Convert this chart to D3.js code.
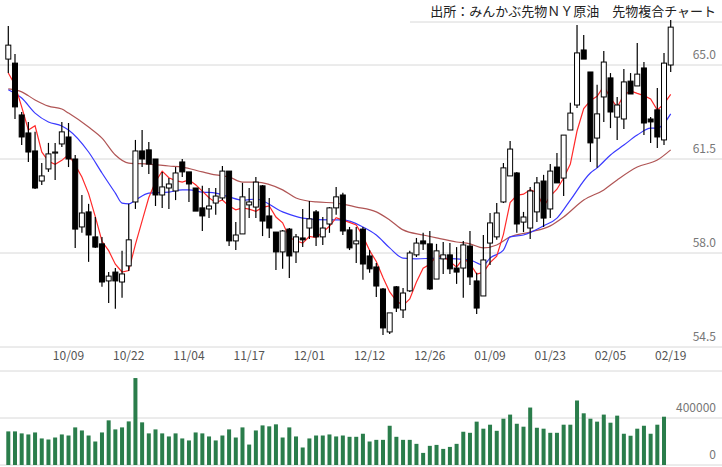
<!DOCTYPE html>
<html><head><meta charset="utf-8">
<script src="https://cdn.jsdelivr.net/npm/d3@7"></script>
<style>body{margin:0;background:#fff}svg{display:block}</style>
</head><body>
<svg id="c" width="722" height="467"></svg>
<script>
const opens=[65.22,65.07,63.14,62.47,61.80,60.68,61.13,61.72,62.06,62.32,61.50,58.97,59.53,58.60,58.34,56.96,57.29,56.92,57.52,59.90,61.80,61.84,61.50,60.16,60.42,60.31,61.39,61.02,60.42,59.68,59.64,59.86,60.05,61.05,58.45,58.71,59.79,59.71,60.50,59.38,58.78,58.04,58.89,58.04,58.56,58.93,59.53,58.60,59.08,59.68,60.16,58.86,58.34,58.89,57.89,57.48,56.66,55.06,56.74,55.88,56.59,57.93,58.45,58.34,57.03,57.78,57.93,57.44,57.44,58.26,56.96,56.40,58.37,58.60,59.90,60.87,60.98,59.15,58.93,59.53,60.68,59.64,61.20,60.79,62.58,63.51,65.56,64.74,62.28,63.81,64.52,63.06,62.99,64.40,64.22,64.89,62.99,63.33,62.21,65.00];
const highs=[66.45,65.41,63.25,62.88,62.51,61.35,62.10,62.10,62.88,62.84,61.65,60.16,59.83,59.34,58.60,57.29,57.44,58.08,59.83,62.21,62.58,62.13,61.50,61.02,60.79,61.20,61.50,61.02,60.42,60.50,60.42,60.42,61.24,61.05,59.15,60.61,60.42,60.83,60.53,60.05,58.78,58.86,58.93,58.71,59.64,59.94,59.60,59.34,59.71,60.46,60.24,58.97,58.97,58.97,58.11,57.63,56.70,55.77,56.77,56.70,58.08,58.56,58.75,58.82,58.34,58.41,58.37,58.22,58.45,58.82,57.26,58.67,59.49,59.86,61.35,62.17,61.02,59.53,60.46,60.83,60.91,61.31,61.72,62.39,63.59,66.49,66.12,64.74,64.26,65.52,64.70,63.81,64.85,64.70,65.82,65.11,63.06,64.14,65.45,66.68];
const lows=[64.70,62.99,62.02,61.39,60.38,60.53,61.02,60.72,61.95,61.20,58.19,58.75,57.67,58.19,56.74,56.14,55.92,56.33,57.33,59.64,61.20,60.94,59.75,59.68,59.64,59.97,60.83,59.90,59.56,58.82,59.30,59.42,59.97,58.26,58.11,58.71,59.30,59.30,58.63,58.56,57.37,57.41,57.07,57.63,58.22,58.52,58.26,58.30,58.75,59.42,58.67,58.11,57.63,57.00,57.26,56.36,54.95,54.98,55.80,55.58,56.55,57.85,58.11,56.62,57.03,57.22,57.22,56.85,56.33,56.81,55.73,56.40,57.55,58.49,59.86,60.87,58.75,58.78,58.52,59.15,58.97,59.30,60.61,60.12,62.58,63.40,65.22,61.39,61.17,62.88,62.65,62.21,62.62,63.92,64.22,62.39,62.10,61.91,62.02,64.74];
const closes=[65.74,63.44,62.32,61.76,60.42,60.87,61.69,61.76,62.51,61.50,58.89,59.49,58.67,58.22,56.92,57.14,56.96,57.22,58.49,61.80,61.50,61.31,60.16,60.46,60.57,60.98,61.02,60.57,59.56,59.38,59.75,60.12,61.05,58.45,58.67,60.09,59.90,60.64,59.19,58.93,58.04,58.82,57.89,58.60,58.49,59.27,58.60,58.93,59.68,60.09,58.82,58.19,58.45,57.59,57.41,56.77,55.21,55.77,55.95,56.51,58.00,58.37,58.34,56.66,58.08,57.93,57.41,57.29,58.30,57.11,55.95,57.74,59.12,59.49,61.17,61.87,59.08,59.34,60.31,60.61,59.30,61.05,60.61,62.39,63.21,65.45,65.22,62.10,63.18,65.11,63.25,63.51,64.37,63.92,64.66,62.84,62.88,62.32,65.07,66.41];
const volumes=[286000,286000,269000,260000,277000,226000,217000,234000,260000,251000,320000,294000,251000,200000,277000,380000,303000,320000,371000,740000,363000,269000,303000,269000,243000,269000,226000,209000,277000,269000,243000,209000,251000,303000,234000,320000,174000,294000,337000,329000,346000,234000,320000,243000,149000,226000,251000,251000,260000,243000,251000,240000,240000,266000,200000,214000,214000,334000,240000,214000,214000,180000,103000,163000,171000,137000,154000,180000,283000,274000,369000,309000,343000,291000,394000,429000,351000,326000,489000,317000,309000,274000,274000,343000,343000,549000,440000,394000,369000,429000,360000,420000,266000,249000,309000,334000,266000,343000,411000];
const redHead=[64.70,64.26,63.44,62.58];
const blueIdx=[0,2,4,6,8,9,12,14,16,17,18,19,21,24,26,27,29,31,33,35,37,41,44,48,50,53,55,57,59,61,64,67,69,71,72,74,75,77,80,82,84,87,88,90,92,94,96,97,99];
const blueVal=[64.08,63.77,63.21,62.88,62.73,62.58,61.76,60.98,60.23,59.86,59.83,59.97,60.23,60.27,60.35,60.35,60.27,60.23,60.09,59.97,60.01,59.53,59.30,59.23,59.23,58.97,58.67,58.19,57.81,57.78,57.81,57.78,57.74,57.55,57.81,58.11,58.60,58.67,59.01,59.30,59.97,60.98,61.17,61.65,62.02,62.39,62.65,62.65,63.18];
const brownIdx=[0,2,4,6,8,9,12,14,16,18,21,24,26,29,31,33,35,37,41,43,46,49,52,55,57,59,62,64,67,69,71,73,75,78,81,83,86,89,91,94,97,99];
const brownVal=[64.11,64.00,63.70,63.47,63.36,63.21,62.69,62.28,61.65,61.35,61.31,61.24,61.20,61.02,60.91,60.83,60.64,60.64,60.35,60.05,59.90,59.86,59.71,59.53,59.23,58.86,58.67,58.56,58.41,58.34,58.19,58.30,58.60,58.78,59.01,59.34,59.97,60.35,60.72,61.20,61.46,61.84];
const tickIdx=[9,18,27,36,45,54,63,72,81,90,99];
const tickLabels=["10/09","10/22","11/04","11/17","12/01","12/12","12/26","01/09","01/23","02/05","02/19"];
const priceTicks=[54.5,58.0,61.5,65.0];
const volTicks=[0,400000];

const svg=d3.select("#c");
const F="'Noto Sans CJK JP','Noto Sans',sans-serif";
const x=d3.scaleLinear().domain([0,99]).range([8.3,670.7]);
const y=d3.scaleLinear().domain([54.5,65]).range([347,65]);
const yv=d3.scaleLinear().domain([0,400000]).range([465,418]);
const grid="#d8d8d8", lab="#777";

// grid
svg.append("g").selectAll("line").data(priceTicks).join("line")
 .attr("x1",0).attr("x2",722).attr("y1",d=>y(d)).attr("y2",d=>y(d)).attr("stroke",grid);
svg.append("g").selectAll("text").data(priceTicks).join("text")
 .attr("x",716).attr("y",d=>y(d)-6).attr("text-anchor","end").attr("font-family",F)
 .attr("font-size",12).attr("fill",lab).text(d=>d.toFixed(1));
svg.append("line").attr("x1",410).attr("x2",722).attr("y1",22).attr("y2",22).attr("stroke",grid);
svg.append("text").attr("x",716).attr("y",16).attr("text-anchor","end").attr("font-family",F)
 .attr("font-size",13).attr("fill","#222").text("出所：みんかぶ先物ＮＹ原油　先物複合チャート");

// x labels
svg.append("g").selectAll("text").data(tickIdx).join("text")
 .attr("x",d=>x(d)).attr("y",360).attr("text-anchor","middle").attr("font-family",F)
 .attr("font-size",12).attr("fill","#555").text((d,i)=>tickLabels[i]);

// volume grid
svg.append("line").attr("x1",0).attr("x2",722).attr("y1",371).attr("y2",371).attr("stroke",grid);
svg.append("g").selectAll("line").data(volTicks).join("line")
 .attr("x1",0).attr("x2",722).attr("y1",d=>yv(d)).attr("y2",d=>yv(d)).attr("stroke",grid);
svg.append("g").selectAll("text").data(volTicks).join("text")
 .attr("x",716).attr("y",d=>yv(d)-6).attr("text-anchor","end").attr("font-family",F)
 .attr("font-size",12).attr("fill",lab).text(d=>d);
svg.append("g").selectAll("rect").data(volumes).join("rect")
 .attr("x",(d,i)=>x(i)-2).attr("width",4).attr("y",d=>yv(d)).attr("height",d=>yv(0)-yv(d))
 .attr("fill","#2a7d4b");

// MAs
const red=closes.map((c,i)=>i<4?redHead[i]:d3.mean(closes.slice(i-4,i+1)));
const line=d3.line().x(d=>x(d[0])).y(d=>y(d[1]));
svg.append("path").attr("d",line.curve(d3.curveMonotoneX)(brownIdx.map((d,i)=>[d,brownVal[i]])))
 .attr("fill","none").attr("stroke","#b05555").attr("stroke-width",1.2);
svg.append("path").attr("d",line.curve(d3.curveMonotoneX)(blueIdx.map((d,i)=>[d,blueVal[i]])))
 .attr("fill","none").attr("stroke","#3a3aff").attr("stroke-width",1.2);
svg.append("path").attr("d",d3.line().x(d=>x(d[0])).y(d=>y(d[1]))(red.map((v,i)=>[i,v])))
 .attr("fill","none").attr("stroke","#ff2a2a").attr("stroke-width",1.2);

// candles
const g=svg.append("g");
closes.forEach((c,i)=>{
  const o=opens[i], up=c>=o;
  g.append("line").attr("x1",x(i)).attr("x2",x(i)).attr("y1",y(highs[i])).attr("y2",y(lows[i]))
   .attr("stroke","#000").attr("stroke-width",1.2);
  const top=y(Math.max(o,c)), bot=y(Math.min(o,c));
  g.append("rect").attr("x",x(i)-2.5).attr("width",5).attr("y",top).attr("height",Math.max(1,bot-top))
   .attr("fill",up?"#fff":"#000").attr("stroke","#000").attr("stroke-width",1);
});
</script>
</body></html>
